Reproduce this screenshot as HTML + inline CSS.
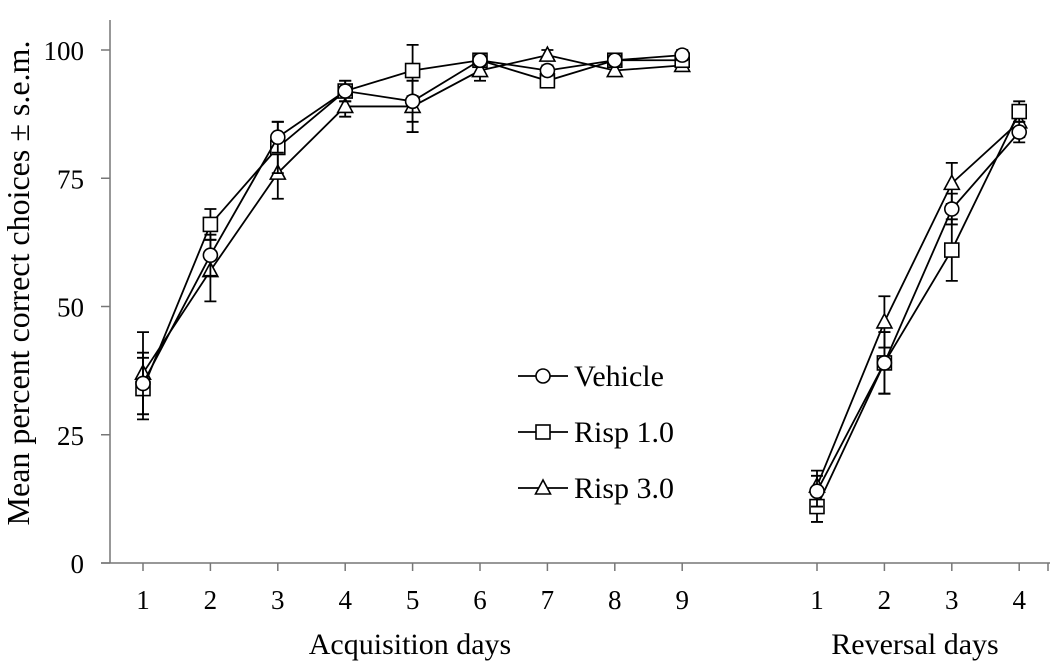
<!DOCTYPE html>
<html><head><meta charset="utf-8"><style>
body{margin:0;background:#fff;}
svg{display:block;font-family:"Liberation Serif",serif;}
</style></head><body>
<svg id="chart" width="1050" height="663"></svg>
<script>
const yTicks=[0,25,50,75,100];
const acqDays=["1","2","3","4","5","6","7","8","9"];
const revDays=["1","2","3","4"];
const vehAcq=[35,60,83,92,90,98,96,98,99];
const vehRev=[14,39,69,84];
const r1Acq=[34,66,81,92,96,98,94,98,98];
const r1Rev=[11,39,61,88];
const r3Acq=[37,57,76,89,89,96,99,96,97];
const r3Rev=[15,47,74,86];
const vehErrAcq=[6,4,3,2,4,1,1,1,1];
const vehErrRev=[3,6,3,2];
const r1ErrAcq=[6,3,5,2,5,1,1,1,1];
const r1ErrRev=[3,6,6,2];
const r3ErrAcq=[8,6,5,2,5,2,1,1,1];
const r3ErrRev=[3,5,4,3];

const NS="http://www.w3.org/2000/svg";
const svg=document.getElementById('chart');
function el(t,a,p){const e=document.createElementNS(NS,t);for(const k in a)e.setAttribute(k,a[k]);(p||svg).appendChild(e);return e;}
const y=v=>563-v*5.13;
const xi=i=>143+i*67.4;
const xa=i=>xi(i);
const xr=i=>xi(i+10);

let a=el('line',{x1:110,y1:563,x2:110,y2:20,stroke:'#777','stroke-width':1.5});

a=el('line',{x1:101,y1:563,x2:1050,y2:563,stroke:'#777','stroke-width':1.5});

yTicks.forEach(v=>{
  el('line',{x1:101,x2:110,y1:y(v),y2:y(v),stroke:'#777','stroke-width':1.5});
  const t=el('text',{x:84,y:y(v)+10,'text-anchor':'end','font-size':27});t.textContent=v;
  
});
function xTick(x,lab){
  el('line',{x1:x,x2:x,y1:563,y2:571,stroke:'#777','stroke-width':1.5});
  const t=el('text',{x:x,y:609,'text-anchor':'middle','font-size':27});t.textContent=lab;
  
}
acqDays.forEach((d,i)=>xTick(xa(i),d));
revDays.forEach((d,i)=>xTick(xr(i),d));
el('line',{x1:1048,x2:1048,y1:563,y2:571,stroke:'#777','stroke-width':1.5});
let t=el('text',{x:410,y:654,'text-anchor':'middle','font-size':30});t.textContent='Acquisition days';

t=el('text',{x:915,y:654,'text-anchor':'middle','font-size':30});t.textContent='Reversal days';

t=el('text',{x:0,y:0,'text-anchor':'middle','font-size':32,transform:'translate(29,283) rotate(-90)'});t.textContent='Mean percent correct choices \u00B1 s.e.m.';


function marker(type,cx,cy,g){
  const s={fill:'#fff',stroke:'#000','stroke-width':1.6};
  let m;
  if(type==='circle')m=el('circle',Object.assign({cx:cx,cy:cy,r:7},s),g);
  else if(type==='square')m=el('rect',Object.assign({x:cx-7,y:cy-7,width:14,height:14},s),g);
  else m=el('polygon',Object.assign({points:`${cx},${cy-8} ${cx-7.5},${cy+6} ${cx+7.5},${cy+6}`},s),g);
  return m;
}
function series(name,type,acq,rev,ea,er){
  const g=el('g',{});
  
  [[acq,ea,xa],[rev,er,xr]].forEach(([vals,errs,fx])=>{
    el('polyline',{points:vals.map((v,i)=>fx(i)+','+y(v)).join(' '),fill:'none',stroke:'#000','stroke-width':1.8},g);
    vals.forEach((v,i)=>{
      const x=fx(i);
      el('path',{d:`M${x},${y(v-errs[i])}V${y(v+errs[i])}M${x-6},${y(v-errs[i])}h12M${x-6},${y(v+errs[i])}h12`,stroke:'#000','stroke-width':1.8,fill:'none'},g);
    });
    vals.forEach((v,i)=>{
      const m=marker(type,fx(i),y(v),g);
      
      
    });
  });
}
series('risp-3','triangle',r3Acq,r3Rev,r3ErrAcq,r3ErrRev);
series('risp-1','square',r1Acq,r1Rev,r1ErrAcq,r1ErrRev);
series('vehicle','circle',vehAcq,vehRev,vehErrAcq,vehErrRev);

const leg=[['Vehicle','circle',376],['Risp 1.0','square',432],['Risp 3.0','triangle',488]];
leg.forEach(([lab,type,ly])=>{
  const g=el('g',{});
  
  el('line',{x1:518,x2:568,y1:ly,y2:ly,stroke:'#000','stroke-width':1.8},g);
  marker(type,543,ly,g);
  const tt=el('text',{x:574,y:ly+10,'font-size':30},g);tt.textContent=lab;
});
</script>
</body></html>
